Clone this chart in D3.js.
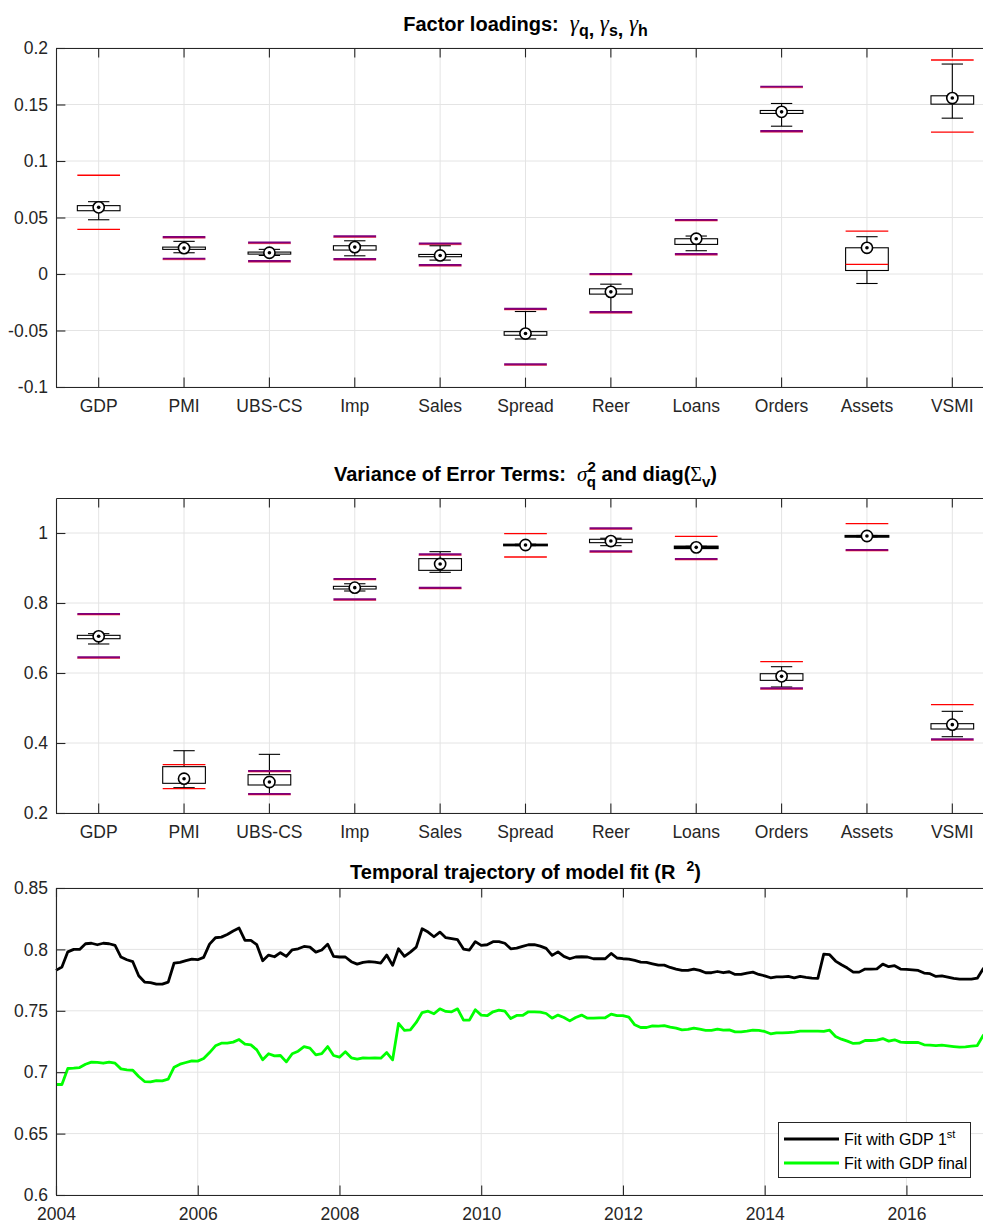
<!DOCTYPE html>
<html><head><meta charset="utf-8">
<script src="https://cdn.jsdelivr.net/npm/d3@7"></script>
<style>
body{margin:0;background:#fff}
svg{display:block}
text{font-family:"Liberation Sans",Arial,Helvetica,sans-serif;white-space:pre}
</style>
</head><body>
<svg id="c" width="983" height="1224"></svg>
<script>
// ---------------- DATA ----------------
const cats = ["GDP","PMI","UBS-CS","Imp","Sales","Spread","Reer","Loans","Orders","Assets","VSMI"];

// Panel 1: factor loadings
const loadTicks = [-0.1,-0.05,0,0.05,0.1,0.15,0.2];
const loadWhiskerHi = [0.064, 0.0289, 0.0218, 0.0294, 0.025, -0.0332, -0.009, 0.0336, 0.1509, 0.033, 0.1858];
const loadBoxHi     = [0.0605, 0.0238, 0.0194, 0.025, 0.0173, -0.051, -0.0131, 0.0312, 0.1447, 0.0232, 0.1577];
const loadMedian    = [0.059, 0.0229, 0.0188, 0.0238, 0.0164, -0.0527, -0.0158, 0.0312, 0.1435, 0.0232, 0.1557];
const loadBoxLo     = [0.056, 0.0218, 0.0176, 0.0212, 0.0153, -0.0542, -0.0178, 0.0262, 0.1421, 0.0031, 0.1503];
const loadWhiskerLo = [0.048, 0.0188, 0.0164, 0.0161, 0.0123, -0.0575, -0.0338, 0.0206, 0.1308, -0.0084, 0.1379];
const loadBoundHi   = [0.0874, 0.0327, 0.0277, 0.0333, 0.0268, -0.0309, 0.0, 0.0478, 0.1657, 0.038, 0.1894];
const loadBoundLo   = [0.0395, 0.0135, 0.0114, 0.0132, 0.0079, -0.0799, -0.0338, 0.0176, 0.1264, 0.0085, 0.1255];
const loadHiKind    = ["r","p","p","p","p","p","p","p","p","r","r"];
const loadLoKind    = ["r","p","p","p","p","p","p","p","p","r","r"];

// Panel 2: variance of error terms
const varTicks = [0.2,0.4,0.6,0.8,1];
const varWhiskerHi = [0.7124, 0.378, 0.3676, 0.855, 0.9467, 0.968, 0.985, 0.962, 0.618, 0.993, 0.4905];
const varBoxHi     = [0.7076, 0.3324, 0.3095, 0.8476, 0.9267, 0.9665, 0.982, 0.961, 0.598, 0.9915, 0.4552];
const varMedian    = [0.7048, 0.298, 0.2886, 0.8438, 0.9114, 0.9657, 0.977, 0.959, 0.5905, 0.9914, 0.4524];
const varBoxLo     = [0.698, 0.2848, 0.28, 0.84, 0.8933, 0.965, 0.9724, 0.957, 0.579, 0.9895, 0.44];
const varWhiskerLo = [0.6829, 0.2724, 0.2543, 0.8343, 0.8876, 0.964, 0.9638, 0.956, 0.56, 0.989, 0.418];
const varBoundHi   = [0.7686, 0.338, 0.32, 0.8686, 0.939, 0.998, 1.0133, 0.9905, 0.6324, 1.0267, 0.5095];
const varBoundLo   = [0.6448, 0.2695, 0.2543, 0.8105, 0.843, 0.9314, 0.9476, 0.9257, 0.5562, 0.9514, 0.4105];
const varHiKind    = ["p","r","p","p","p","r","p","r","r","r","r"];
const varLoKind    = ["p","r","p","p","p","r","p","p","p","p","p"];

// Panel 3: R^2 trajectory (monthly, starting Jan 2004)
const startYear = 2004;
const fitFirst = [
0.7829,0.7856,0.798,0.80,0.80,0.8046,0.805,0.8038,0.805,0.8046,0.8033,0.7938,
0.7916,0.790,0.7785,0.7734,0.773,0.7717,0.7717,0.7734,0.7889,0.7894,0.7908,0.792,
0.7916,0.7935,0.8043,0.8095,0.81,0.8122,0.815,0.8174,0.8073,0.8073,0.8038,0.7908,
0.7954,0.794,0.7973,0.7943,0.7997,0.8005,0.8024,0.8019,0.7978,0.7995,0.8043,0.7943,
0.7938,0.7938,0.790,0.788,0.7894,0.79,0.7897,0.7889,0.7954,0.787,0.8005,0.7943,
0.7978,0.8019,0.8168,0.8141,0.8103,0.8141,0.8095,0.8087,0.8079,0.8003,0.7995,0.8063,
0.8033,0.8038,0.8063,0.8063,0.805,0.8005,0.8011,0.8024,0.8038,0.8038,0.8027,0.8008,
0.7951,0.798,0.7943,0.7924,0.7938,0.794,0.7938,0.7924,0.7924,0.7924,0.7967,0.793,
0.7924,0.792,0.791,0.7897,0.7894,0.7883,0.7872,0.7872,0.7853,0.784,0.7829,0.7829,
0.784,0.7829,0.781,0.781,0.782,0.781,0.7818,0.7796,0.7796,0.7807,0.7815,0.7796,
0.7785,0.7769,0.7777,0.7777,0.778,0.7769,0.778,0.7772,0.7766,0.7764,0.7962,0.7957,
0.7905,0.7875,0.7848,0.7815,0.7815,0.784,0.784,0.7842,0.788,0.7859,0.7867,0.784,
0.7837,0.7834,0.7829,0.7807,0.7802,0.778,0.7785,0.7774,0.7764,0.7758,0.7758,0.7758,
0.7766,0.7842,0.79];
const fitFinal = [
0.69,0.69,0.703,0.7033,0.7038,0.7065,0.7082,0.708,0.7073,0.7082,0.7073,0.7027,
0.7019,0.7016,0.6965,0.6924,0.6921,0.6932,0.693,0.6943,0.7041,0.7065,0.7079,0.7092,
0.709,0.7111,0.716,0.7215,0.7236,0.7236,0.7245,0.7266,0.7228,0.7223,0.7182,0.7101,
0.715,0.7133,0.7136,0.7084,0.715,0.7171,0.7209,0.7196,0.7141,0.7152,0.7209,0.7136,
0.7122,0.7166,0.7117,0.7106,0.7117,0.7114,0.7117,0.7114,0.716,0.7101,0.7397,0.734,
0.7345,0.7405,0.7486,0.7497,0.7476,0.7516,0.7495,0.7492,0.7516,0.7424,0.7424,0.7508,
0.7465,0.746,0.7492,0.7505,0.7497,0.7437,0.7462,0.7462,0.7492,0.7492,0.749,0.7478,
0.744,0.7465,0.7446,0.7418,0.7446,0.7465,0.744,0.744,0.7443,0.7443,0.7473,0.746,
0.746,0.7448,0.7386,0.7364,0.7364,0.7378,0.7375,0.738,0.7367,0.7359,0.7345,0.7348,
0.7359,0.735,0.734,0.734,0.735,0.7342,0.7345,0.7329,0.7329,0.7334,0.7342,0.734,
0.7332,0.7313,0.7321,0.7321,0.7323,0.7326,0.7334,0.7334,0.7334,0.7334,0.7332,0.7342,
0.7291,0.7269,0.7253,0.7234,0.7236,0.7258,0.7258,0.7261,0.7274,0.7253,0.7264,0.7245,
0.7242,0.7242,0.7242,0.7223,0.722,0.7217,0.722,0.7215,0.7209,0.7204,0.7207,0.7212,
0.7217,0.7299,0.735];
const fitTicks = [0.6,0.65,0.7,0.75,0.8,0.85];
const yearTicks = [2004,2006,2008,2010,2012,2014,2016];
const legendLabels = ["Fit with GDP 1", "Fit with GDP final"];

// ---------------- DRAW ----------------
const svg = d3.select("#c");
const L = 56, R = 995;
const axisColor = "#262626", gridColor = "#e4e4e4";
const tickLen = 9.4, fontSize = 17.5;
const fmt = d => String(+d.toFixed(2));

function styleAxis(sel){
  sel.select(".domain").attr("stroke", axisColor).attr("stroke-width", 1.1);
  sel.selectAll(".tick line").attr("stroke", axisColor).attr("stroke-width", 1.1);
  sel.selectAll(".tick text").attr("fill", axisColor).style("font-size", fontSize + "px")
     .style("font-family", '"Liberation Sans",Arial,sans-serif');
}

function boundLine(g, cx, yy, half, kind){
  if (kind === "p") {
    g.append("line").attr("x1", cx-half).attr("x2", cx+half).attr("y1", yy).attr("y2", yy)
      .attr("stroke", "#7d007d").attr("stroke-width", 2.2);
    g.append("line").attr("x1", cx-half).attr("x2", cx+half).attr("y1", yy+1).attr("y2", yy+1)
      .attr("stroke", "#ff0000").attr("stroke-width", 0.8).attr("opacity", 0.6);
  } else {
    g.append("line").attr("x1", cx-half).attr("x2", cx+half).attr("y1", yy).attr("y2", yy)
      .attr("stroke", "#ff0000").attr("stroke-width", 1.3);
  }
}

function boxPanel(cfg){
  const x = d3.scaleBand().domain(cats).range([L, R]).padding(0);
  const y = d3.scaleLinear().domain(cfg.domain).range([cfg.bottom, cfg.top]);
  const g = svg.append("g");
  const bw = x.bandwidth();
  const cx = c => x(c) + bw/2;
  g.selectAll("line.gy").data(cfg.ticks).join("line").attr("class","gy")
    .attr("x1", L).attr("x2", R).attr("y1", d => y(d)).attr("y2", d => y(d))
    .attr("stroke", gridColor).attr("stroke-width", 1);
  g.selectAll("line.gx").data(cats).join("line").attr("class","gx")
    .attr("x1", d => cx(d)).attr("x2", d => cx(d)).attr("y1", cfg.top).attr("y2", cfg.bottom)
    .attr("stroke", gridColor).attr("stroke-width", 1);

  const half = bw/4, cap = bw/8;
  cats.forEach((c, i) => {
    const X = cx(c);
    const m = g.append("g");
    m.append("line").attr("x1", X).attr("x2", X).attr("y1", y(cfg.wHi[i])).attr("y2", y(cfg.bHi[i]))
      .attr("stroke", "#000").attr("stroke-width", 1.1);
    m.append("line").attr("x1", X).attr("x2", X).attr("y1", y(cfg.bLo[i])).attr("y2", y(cfg.wLo[i]))
      .attr("stroke", "#000").attr("stroke-width", 1.1);
    [cfg.wHi[i], cfg.wLo[i]].forEach(v => {
      m.append("line").attr("x1", X-cap).attr("x2", X+cap).attr("y1", y(v)).attr("y2", y(v))
        .attr("stroke", "#000").attr("stroke-width", 1.1);
    });
    const h = Math.max(y(cfg.bLo[i]) - y(cfg.bHi[i]), 0.01);
    m.append("rect").attr("x", X-half).attr("y", y(cfg.bHi[i])).attr("width", 2*half).attr("height", h)
      .attr("fill", "#fff").attr("stroke", "#000").attr("stroke-width", h < 2 ? 2.2 : 1.1);
    boundLine(m, X, y(cfg.hi[i]), half, cfg.hiKind[i]);
    boundLine(m, X, y(cfg.lo[i]), half, cfg.loKind[i]);
    m.append("circle").attr("cx", X).attr("cy", y(cfg.med[i])).attr("r", 5.6)
      .attr("fill", "#fff").attr("stroke", "#000").attr("stroke-width", 1.6);
    m.append("circle").attr("cx", X).attr("cy", y(cfg.med[i])).attr("r", 1.8).attr("fill", "#000");
  });

  const ax1 = g.append("g").attr("transform", `translate(${L},0)`)
    .call(d3.axisLeft(y).tickValues(cfg.ticks).tickSize(-tickLen).tickSizeOuter(0).tickPadding(8).tickFormat(fmt));
  styleAxis(ax1);
  const ax2 = g.append("g").attr("transform", `translate(0,${cfg.bottom})`)
    .call(d3.axisBottom(x).tickSize(-tickLen).tickSizeOuter(0).tickPadding(13));
  styleAxis(ax2);
  const ax3 = g.append("g").attr("transform", `translate(0,${cfg.top})`)
    .call(d3.axisTop(x).tickSize(-tickLen).tickSizeOuter(0).tickFormat(""));
  styleAxis(ax3);
}

boxPanel({top: 48, bottom: 387, domain: [-0.1, 0.2], ticks: loadTicks,
  wHi: loadWhiskerHi, bHi: loadBoxHi, med: loadMedian, bLo: loadBoxLo, wLo: loadWhiskerLo,
  hi: loadBoundHi, lo: loadBoundLo, hiKind: loadHiKind, loKind: loadLoKind});
boxPanel({top: 498, bottom: 813, domain: [0.2, 1.1], ticks: varTicks,
  wHi: varWhiskerHi, bHi: varBoxHi, med: varMedian, bLo: varBoxLo, wLo: varWhiskerLo,
  hi: varBoundHi, lo: varBoundLo, hiKind: varHiKind, loKind: varLoKind});

// Line panel
(function(){
  const top = 888, bottom = 1195;
  const x = d3.scaleLinear().domain([2004, 2017.25]).range([L, R]);
  const y = d3.scaleLinear().domain([0.6, 0.85]).range([bottom, top]);
  const g = svg.append("g");
  g.selectAll("line.gy").data(fitTicks).join("line").attr("class","gy")
    .attr("x1", L).attr("x2", R).attr("y1", d => y(d)).attr("y2", d => y(d))
    .attr("stroke", gridColor);
  g.selectAll("line.gx").data(yearTicks).join("line").attr("class","gx")
    .attr("x1", d => x(d)).attr("x2", d => x(d)).attr("y1", top).attr("y2", bottom)
    .attr("stroke", gridColor);
  const line = d3.line().x((d, i) => x(startYear + i/12)).y(d => y(d));
  g.append("path").datum(fitFirst).attr("d", line).attr("fill", "none")
    .attr("stroke", "#000").attr("stroke-width", 2.8).attr("stroke-linejoin", "round");
  g.append("path").datum(fitFinal).attr("d", line).attr("fill", "none")
    .attr("stroke", "#00ff00").attr("stroke-width", 2.8).attr("stroke-linejoin", "round");

  const ax1 = g.append("g").attr("transform", `translate(${L},0)`)
    .call(d3.axisLeft(y).tickValues(fitTicks).tickSize(-tickLen).tickSizeOuter(0).tickPadding(8).tickFormat(fmt));
  styleAxis(ax1);
  const ax2 = g.append("g").attr("transform", `translate(0,${bottom})`)
    .call(d3.axisBottom(x).tickValues(yearTicks).tickSize(-tickLen).tickSizeOuter(0).tickPadding(13).tickFormat(d3.format("d")));
  styleAxis(ax2);
  const ax3 = g.append("g").attr("transform", `translate(0,${top})`)
    .call(d3.axisTop(x).tickValues(yearTicks).tickSize(-tickLen).tickSizeOuter(0).tickFormat(""));
  styleAxis(ax3);

  const lg = g.append("g");
  lg.append("rect").attr("x", 778.5).attr("y", 1122.5).attr("width", 192).attr("height", 55)
    .attr("fill", "#fff").attr("stroke", axisColor).attr("stroke-width", 1);
  const cols = ["#000", "#00ff00"];
  legendLabels.forEach((lab, i) => {
    const yy = 1139 + i*24;
    lg.append("line").attr("x1", 784).attr("x2", 839).attr("y1", yy).attr("y2", yy)
      .attr("stroke", cols[i]).attr("stroke-width", 2.8);
    const t = lg.append("text").attr("x", 844).attr("y", yy + 6).attr("fill", "#000")
      .style("font-size", "16px").text(lab);
    if (i === 0) t.append("tspan").attr("dy", -7).style("font-size", "11px").text("st");
  });
})();

// Titles
const cxT = (L + R)/2;
const serif = '"Liberation Serif","DejaVu Serif",serif';
(function(){
  const t = svg.append("text").attr("x", cxT).attr("y", 31).attr("text-anchor", "middle")
    .style("font-size", "20px").style("font-weight", "bold").attr("fill", "#000");
  t.append("tspan").text("Factor loadings:  ");
  const subs = ["q","s","h"];
  subs.forEach((s, i) => {
    t.append("tspan").style("font-family", serif).style("font-style", "italic").style("font-weight", "normal")
      .style("font-size", "23px").attr("dy", i === 0 ? 0 : -5).text("γ");
    t.append("tspan").attr("dy", 5).style("font-size", "16px").text(s);
    if (i < 2) t.append("tspan").text(", ");
  });
})();
(function(){
  const t = svg.append("text").attr("x", cxT).attr("y", 481).attr("text-anchor", "middle")
    .style("font-size", "20px").style("font-weight", "bold").attr("fill", "#000");
  t.append("tspan").text("Variance of Error Terms:  ");
  t.append("tspan").style("font-family", serif).style("font-style", "italic").style("font-weight", "normal")
    .style("font-size", "21px").text("σ");
  t.append("tspan").attr("dy", -9).style("font-size", "15px").text("2");
  t.append("tspan").attr("dx", -9).attr("dy", 15).style("font-size", "15px").text("q");
  t.append("tspan").attr("dy", -6).text(" and diag(");
  t.append("tspan").style("font-family", serif).style("font-weight", "normal").style("font-size", "20px").text("Σ");
  t.append("tspan").attr("dy", 6).style("font-size", "15px").text("v");
  t.append("tspan").attr("dy", -6).text(")");
})();
(function(){
  const t = svg.append("text").attr("x", cxT).attr("y", 879).attr("text-anchor", "middle")
    .style("font-size", "20px").style("font-weight", "bold").attr("fill", "#000");
  t.append("tspan").text("Temporal trajectory of model fit (R  ");
  t.append("tspan").attr("dy", -8).style("font-size", "14px").text("2");
  t.append("tspan").attr("dy", 8).text(")");
})();
</script>
</body></html>
